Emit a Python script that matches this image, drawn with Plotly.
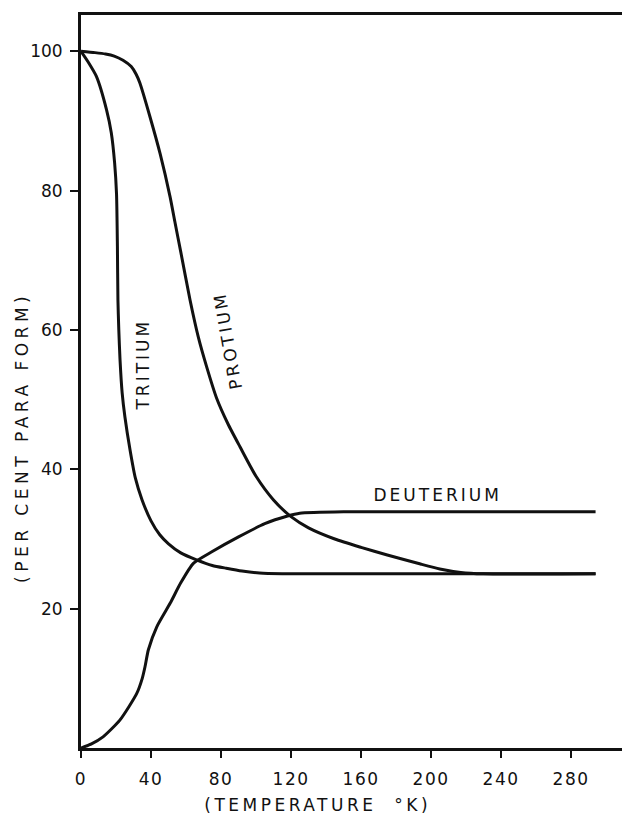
import plotly.graph_objects as go

# ---- data ----
tritium_T = [0, 4, 8.8, 14.6, 17.3, 19.2, 20.3, 20.8, 21.1, 21.6, 22.3, 23.5, 25.1, 28, 31, 34.9, 40, 45, 50, 57, 66, 75, 83, 92, 102, 115, 294]
tritium_P = [100, 98.5, 96.4, 91.6, 88.3, 84, 79.5, 72, 64.3, 60, 55.7, 51, 47.5, 42.8, 38.8, 35.6, 32.6, 30.6, 29.3, 28, 27, 26.2, 25.8, 25.4, 25.1, 25, 25]

protium_T = [0, 8, 14, 19, 24, 28.7, 31.5, 33.7, 39.4, 45.2, 50.9, 53.8, 57, 62.3, 67, 71.8, 77.5, 84, 90.9, 100, 110, 120, 130, 145, 160, 175, 194, 205, 217, 230, 294]
protium_P = [100, 99.8, 99.6, 99.3, 98.7, 97.8, 96.7, 95.4, 90.6, 85.3, 79.1, 75.3, 71.2, 64.3, 59, 54.7, 50.2, 46.5, 43.2, 39, 35.6, 33.2, 31.6, 30, 28.8, 27.7, 26.4, 25.7, 25.2, 25, 25]

deuterium_T = [0, 6, 12.6, 22.2, 31.8, 35, 36.6, 38.5, 43.3, 51, 57, 64.2, 75, 90, 105, 118, 125, 150, 294]
deuterium_P = [0, 0.6, 1.6, 4, 7.8, 10, 11.7, 14.1, 17.4, 20.8, 23.7, 26.5, 28.2, 30.3, 32.2, 33.3, 33.7, 33.9, 33.9]

x_ticks = [0, 40, 80, 120, 160, 200, 240, 280]
y_ticks = [20, 40, 60, 80, 100]

labels = [
    {"text": "TRITIUM", "T": 35.4, "P": 55.1, "angle": -90},
    {"text": "PROTIUM", "T": 84.0, "P": 58.5, "angle": -100},
    {"text": "DEUTERIUM", "T": 203.4, "P": 36.3, "angle": 0},
]

FONT = "DejaVu Sans"
INK = "#111111"

fig = go.Figure()
for xs, ys in [(tritium_T, tritium_P), (protium_T, protium_P), (deuterium_T, deuterium_P)]:
    fig.add_trace(go.Scatter(x=xs, y=ys, mode="lines",
                             line=dict(color=INK, width=3, shape="spline", smoothing=0.6),
                             showlegend=False, hoverinfo="skip"))

for lb in labels:
    fig.add_annotation(x=lb["T"], y=lb["P"], xref="x", yref="y", text=lb["text"],
                       textangle=lb["angle"], showarrow=False,
                       xanchor="center", yanchor="middle",
                       font=dict(family=FONT, size=17, color=INK))

fig.add_annotation(x=-0.109, y=44.5, xref="paper", yref="y", text="(PER CENT PARA FORM)",
                   textangle=-90, showarrow=False, xanchor="center", yanchor="middle",
                   font=dict(family=FONT, size=17, color=INK))
fig.add_annotation(x=134.9, y=-0.078, xref="x", yref="paper", text="(TEMPERATURE  °K)",
                   showarrow=False, xanchor="center", yanchor="middle",
                   font=dict(family=FONT, size=17, color=INK))

fig.update_layout(
    width=625, height=815,
    margin=dict(l=81, r=3, t=15, b=67),
    paper_bgcolor="white", plot_bgcolor="white",
    font=dict(family=FONT, size=17, color=INK),
)
fig.update_xaxes(range=[0, 309.1], tickvals=x_ticks, ticktext=[str(v) for v in x_ticks],
                 showline=True, linecolor=INK, linewidth=3, mirror=True,
                 ticks="outside", ticklen=7, tickwidth=2, tickcolor=INK,
                 ticklabelstandoff=7, showgrid=False, zeroline=False)
fig.update_yaxes(range=[0, 105.2], tickvals=y_ticks, ticktext=[str(v) for v in y_ticks],
                 showline=True, linecolor=INK, linewidth=3, mirror=False,
                 ticks="outside", ticklen=8, tickwidth=2, tickcolor=INK,
                 ticklabelstandoff=4, showgrid=False, zeroline=False)

css = (".xtick text { letter-spacing: 1.5px; } "
       "g.annotation text { letter-spacing: 3px; } "
       "g.annotation[data-index='3'] text { letter-spacing: 4.5px; } "
       "g.annotation[data-index='4'] text { letter-spacing: 3.5px; }")
post = ("document.body.style.margin='0';document.body.style.overflow='hidden';"
        "var s=document.createElement('style');s.textContent=%r;document.head.appendChild(s);" % css)
fig.write_html("out.html", post_script=post, config={"displayModeBar": False})
